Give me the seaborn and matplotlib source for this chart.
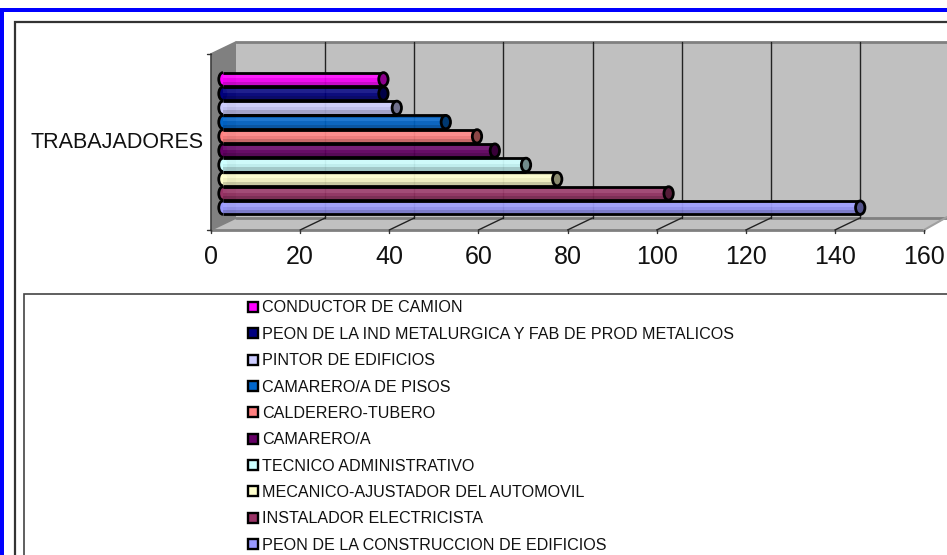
import matplotlib
matplotlib.use("Agg")
import matplotlib.pyplot as plt
from matplotlib.patches import Arc, Ellipse, Polygon, Rectangle
from matplotlib.lines import Line2D
import seaborn as sns
import pandas as pd
import numpy as np

categories = ["CONDUCTOR DE CAMION",
              "PEON DE LA IND METALURGICA Y FAB DE PROD METALICOS",
              "PINTOR DE EDIFICIOS",
              "CAMARERO/A DE PISOS",
              "CALDERERO-TUBERO",
              "CAMARERO/A",
              "TECNICO ADMINISTRATIVO",
              "MECANICO-AJUSTADOR DEL AUTOMOVIL",
              "INSTALADOR ELECTRICISTA",
              "PEON DE LA CONSTRUCCION DE EDIFICIOS"]
trabajadores = [36, 36, 39, 50, 57, 61, 68, 75, 100, 143]
colors = ["#FF00FF", "#000080", "#CCCCFF", "#0066CC", "#FF8080",
          "#660066", "#CCFFFF", "#FFFFCC", "#993366", "#9999FF"]
xticks = [0, 20, 40, 60, 80, 100, 120, 140, 160]

W, H = 947, 555
sns.set_theme(style="white")
plt.rcParams["font.family"] = ["Liberation Sans", "DejaVu Sans"]
fig = plt.figure(figsize=(W / 100, H / 100), dpi=100, facecolor="white")

def axes_px(x0, y0, x1, y1, **kw):
    return fig.add_axes([x0 / W, 1 - y1 / H, (x1 - x0) / W, (y1 - y0) / H], **kw)

# ---- decoration layer in pixel space
bg = axes_px(0, 0, W, H, zorder=0)
bg.set_xlim(0, W); bg.set_ylim(H, 0); bg.axis("off")
bg.add_patch(Rectangle((0, 8), W, 4, fc="#0000FF", ec="none"))
bg.add_patch(Rectangle((0, 8), 4, H, fc="#0000FF", ec="none"))
bg.plot([15, 15, W], [H, 22, 22], color="#333333", lw=1.6, solid_joinstyle="miter")
bg.add_patch(Rectangle((23.5, 294), W, 300, fc="white", ec="#444444", lw=1.2))
# 3-D box
FX0, FX1, FY, BX0, BY0, BY1 = 211, 924, 230, 236, 42, 218
bg.add_patch(Rectangle((BX0, BY0), W, BY1 - BY0, fc="#C0C0C0", ec="none"))
bg.add_patch(Polygon([(FX0, FY), (FX1, FY), (W, BY1), (BX0, BY1)], fc="#C0C0C0", ec="none"))
bg.add_patch(Polygon([(FX0, 54), (BX0, BY0), (BX0, BY1), (FX0, FY)], fc="#808080", ec="none"))
bg.plot([BX0, W], [BY0, BY0], color="#808080", lw=2)
bg.plot([BX0, W], [BY1, BY1], color="#808080", lw=2)
bg.plot([FX0, FX1], [FY, FY], color="#808080", lw=2)
bg.plot([FX1, W], [FY, BY1 - 1], color="#A0A0A0", lw=1.5)
bg.plot([FX0, BX0], [54, BY0], color="#808080", lw=1.2)
bg.plot([FX0, BX0], [FY, BY1], color="#808080", lw=1.2)
bg.plot([FX0, FX0], [54, FY], color="#404040", lw=1.2)
bg.plot([207, FX0], [54, 54], color="#333333", lw=1)
bg.plot([207, FX0], [FY, FY], color="#333333", lw=1)
scale = (FX1 - FX0) / 160
for t in xticks[1:-1]:
    bg.plot([BX0 + t * scale] * 2, [BY0, BY1], color="#222222", lw=1)
    bg.plot([FX0 + t * scale, BX0 + t * scale], [FY, BY1], color="#222222", lw=1)
for t in xticks:
    bg.plot([FX0 + t * scale] * 2, [FY, FY + 3], color="#333333", lw=1)

# ---- tick labels on the front plane
front = axes_px(FX0, 54, FX1, FY, zorder=1)
front.patch.set_alpha(0)
for s in front.spines.values():
    s.set_visible(False)
front.set_xlim(0, 160)
front.set_xticks(xticks)
front.set_xticklabels([str(t) for t in xticks], fontsize=18, color="#111111")
front.tick_params(axis="x", length=0, pad=11)
front.set_yticks([])
front.set_ylabel("TRABAJADORES", rotation=0, fontsize=15.5, color="#111111",
                 ha="right", va="center", labelpad=8)
front.yaxis.set_label_coords(-0.0105, 0.495)

# ---- bars on the mid-depth plane
mid = axes_px(223, 72.2, 223 + 160 * scale, 214.8, zorder=2)
mid.patch.set_alpha(0)
df = pd.DataFrame({"oficio": categories, "trabajadores": trabajadores})
bar_w = 0.94
sns.barplot(data=df, y="oficio", x="trabajadores", hue="oficio", palette=colors,
            legend=False, dodge=False, width=bar_w, ax=mid, alpha=0.93,
            edgecolor="none", linewidth=0, saturation=1)
mid.set_xlim(0, 160)
mid.set_ylim(9.5, -0.5)
mid.axis("off")
ys = np.arange(len(categories))
vals = np.array(trabajadores, dtype=float)
for top, h, shade, a in [(-0.46, 0.14, "black", 0.14), (-0.32, 0.26, "white", 0.08),
                         (-0.06, 0.24, "black", 0.05), (0.18, 0.28, "black", 0.2)]:
    mid.barh(ys + top + h / 2, vals, height=h, color=shade, alpha=a, linewidth=0, zorder=3)
for y, v, c in zip(ys, vals, colors):
    rgb = np.array(matplotlib.colors.to_rgb(c))
    mid.add_patch(Ellipse((0, y), 1.9, bar_w, fc=c, ec="none", zorder=0.5, clip_on=False))
    mid.add_patch(Arc((0, y), 1.9, bar_w, theta1=90, theta2=270, ec="black", lw=2,
                      zorder=3.5, clip_on=False))
    mid.plot([0, v], [y - bar_w / 2] * 2, color="black", lw=2, zorder=3.5, clip_on=False, solid_capstyle="butt")
    mid.plot([0, v], [y + bar_w / 2] * 2, color="black", lw=2, zorder=3.5, clip_on=False, solid_capstyle="butt")
    mid.add_patch(Ellipse((v, y), 2.1, bar_w, fc=rgb * 0.55, ec="black", lw=2, zorder=4, clip_on=False))

# ---- legend
handles = [Line2D([], [], marker="s", linestyle="none", markersize=7.0,
                  markerfacecolor=c, markeredgecolor="black", markeredgewidth=1.7,
                  label=n) for c, n in zip(colors, categories)]
leg = fig.legend(handles=handles, loc="upper left",
                 bbox_to_anchor=(243 / W, 1 - 300.5 / H), frameon=False,
                 fontsize=11.6, labelspacing=0.705, handletextpad=0.0, handlelength=1.18,
                 borderpad=0, borderaxespad=0, labelcolor="#111111")
fig.savefig("out.png", dpi=100)
